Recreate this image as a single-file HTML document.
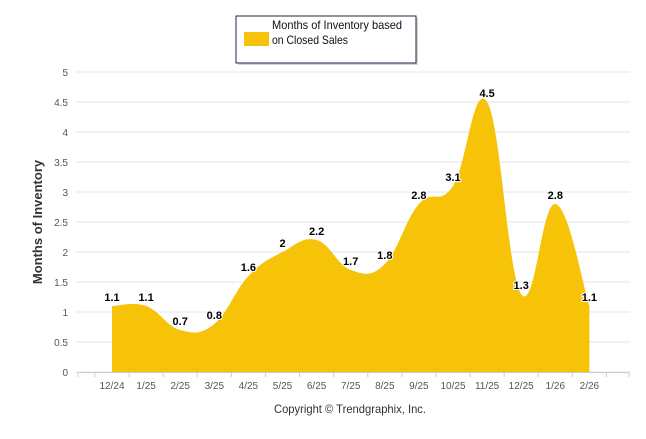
<!DOCTYPE html>
<html><head><meta charset="utf-8"><style>
body{margin:0;background:#fff;}
svg text{font-family:"Liberation Sans",Arial,sans-serif;}
</style></head><body>
<svg id="chart" width="646" height="434" viewBox="0 0 646 434" xmlns="http://www.w3.org/2000/svg">
<g>
<rect x="238" y="18" width="180" height="47" fill="#888" opacity="0.35"/>
<rect x="236" y="16" width="180" height="47" fill="#fff" stroke="#1a2a4a" stroke-width="1"/>
<rect x="244" y="32" width="25" height="14" fill="#F7C308"/>
<text x="272" y="29" font-size="12" fill="#111" textLength="130" lengthAdjust="spacingAndGlyphs">Months of Inventory based</text>
<text x="272" y="44" font-size="12" fill="#111" textLength="76" lengthAdjust="spacingAndGlyphs">on Closed Sales</text>
</g>
<g id="grid"></g>
<g id="yticks"></g>
<g id="series"></g>
<g id="xaxis"></g>
<g id="labels"></g>
<text transform="translate(42,222) rotate(-90)" text-anchor="middle" font-size="13" font-weight="bold" fill="#333">Months of Inventory</text>
<text x="350" y="413" text-anchor="middle" font-size="12" fill="#333" textLength="152" lengthAdjust="spacingAndGlyphs">Copyright © Trendgraphix, Inc.</text>
</svg>
<script>
const categories=["12/24","1/25","2/25","3/25","4/25","5/25","6/25","7/25","8/25","9/25","10/25","11/25","12/25","1/26","2/26"];
const values=[1.1,1.1,0.7,0.8,1.6,2,2.2,1.7,1.8,2.8,3.1,4.5,1.3,2.8,1.1];
const yTicks=[0,0.5,1,1.5,2,2.5,3,3.5,4,4.5,5];
const NS="http://www.w3.org/2000/svg";
const x0=112,dx=34.1,yBase=372,yScale=60;
const xPos=i=>x0+i*dx;
const yPos=v=>yBase-v*yScale;
function mk(tag,attrs,parent,txt){const e=document.createElementNS(NS,tag);for(const k in attrs)e.setAttribute(k,attrs[k]);if(txt!==undefined)e.textContent=txt;document.getElementById(parent).appendChild(e);return e;}
yTicks.forEach(t=>{
 const l=mk('line',{x1:75,x2:630,y1:yPos(t),y2:yPos(t),stroke:'#e6e6e6','stroke-width':1},'grid');
 
 
 const tx=mk('text',{x:68,y:yPos(t)+4,'text-anchor':'end','font-size':10,fill:'#555'},'yticks',String(t));
 
 
});
const pts=values.map((v,i)=>[xPos(i),yPos(v)]);
let d=`M${pts[0][0]},${yBase}L${pts[0][0]},${pts[0][1]}`;
const k=0.2;
for(let i=1;i<pts.length;i++){
 const p0=pts[i-2]||pts[i-1],p1=pts[i-1],p2=pts[i],p3=pts[i+1]||pts[i];
 const c1=[p1[0]+(p2[0]-p0[0])*k,p1[1]+(p2[1]-p0[1])*k];
 const c2=[p2[0]-(p3[0]-p1[0])*k,p2[1]-(p3[1]-p1[1])*k];
 d+=`C${c1[0]},${c1[1]} ${c2[0]},${c2[1]} ${p2[0]},${p2[1]}`;
}
d+=`L${pts[pts.length-1][0]},${yBase}Z`;
const area=mk('path',{d:d,fill:'#F7C308'},'series');


mk('line',{x1:78,x2:629,y1:yBase+0.5,y2:yBase+0.5,stroke:'#ccc'},'xaxis');
for(let i=0;i<=categories.length;i++){
 const tx=xPos(i)-dx/2;
 mk('line',{x1:tx,x2:tx,y1:yBase,y2:yBase+5,stroke:'#ccc'},'xaxis');
}
mk('line',{x1:629,x2:629,y1:yBase,y2:yBase+5,stroke:'#ccc'},'xaxis');
mk('line',{x1:78,x2:78,y1:yBase,y2:yBase+5,stroke:'#ccc'},'xaxis');
categories.forEach((c,i)=>{
 const t=mk('text',{x:xPos(i),y:389,'text-anchor':'middle','font-size':10,fill:'#555'},'xaxis',c);
 
 
});
values.forEach((v,i)=>{
 const t=mk('text',{x:xPos(i),y:yPos(v)-5,'text-anchor':'middle','font-size':11,'font-weight':'bold',fill:'#000',stroke:'#fff','stroke-width':2,'paint-order':'stroke'},'labels',String(v));
 
 
});
</script>
</body></html>
